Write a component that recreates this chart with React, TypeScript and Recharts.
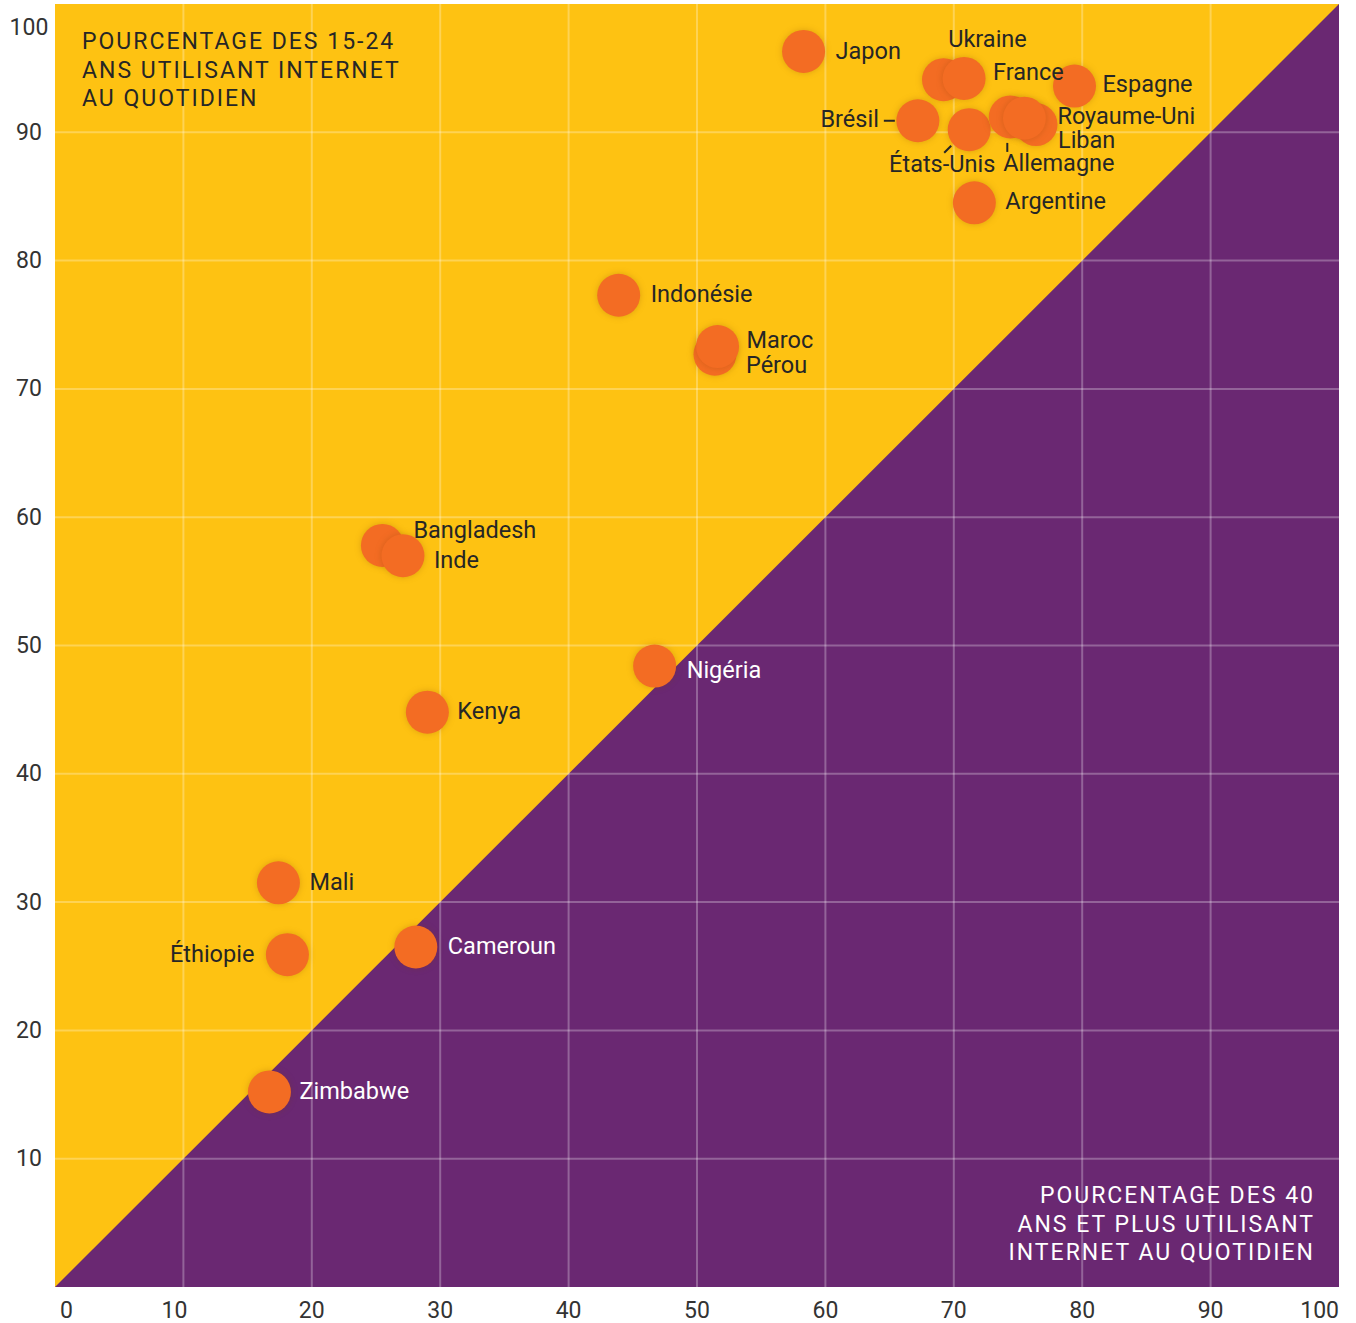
import React from "react";
import {
  ComposedChart,
  Scatter,
  XAxis,
  YAxis,
  ReferenceArea,
  ReferenceLine,
} from "recharts";

// ---- Data ----
const countries = [
  "Japon", "Ukraine", "France", "Espagne", "Brésil", "États-Unis",
  "Liban", "Allemagne", "Royaume-Uni", "Argentine", "Indonésie",
  "Pérou", "Maroc", "Bangladesh", "Inde", "Nigéria", "Kenya",
  "Mali", "Éthiopie", "Cameroun", "Zimbabwe",
];
// % of 40+ using internet daily
const olderShare = [
  58.3, 69.2, 70.8, 79.4, 67.2, 71.2,
  76.4, 74.4, 75.5, 71.6, 43.9,
  51.4, 51.6, 25.5, 27.1, 46.7, 29.0,
  17.4, 18.1, 28.1, 16.7,
];
// % of 15-24 using internet daily
const youngShare = [
  96.3, 94.1, 94.2, 93.6, 90.9, 90.2,
  90.6, 91.2, 91.1, 84.5, 77.3,
  72.7, 73.3, 57.8, 57.0, 48.4, 44.8,
  31.5, 25.9, 26.5, 15.2,
];
const xTicks = [0, 10, 20, 30, 40, 50, 60, 70, 80, 90, 100];
const yTicks = [10, 20, 30, 40, 50, 60, 70, 80, 90, 100];
const gridValues = [10, 20, 30, 40, 50, 60, 70, 80, 90];

const data = countries.map((name, i) => ({
  name,
  x: olderShare[i],
  y: youngShare[i],
}));

// ---- Styles / label placement ----
const YELLOW = "#FEC212";
const PURPLE = "#6A2872";
const ORANGE = "#F36C23";
const DARK = "#262626";
const FONT = "Roboto, sans-serif";

type Placement = {
  dx: number;
  dy: number;
  anchor?: "start" | "middle" | "end";
  light?: boolean;
  leader?: [number, number, number, number];
};
const defaultPlacement: Placement = { dx: 31, dy: 0 };
const labelPlacement: Record<string, Placement> = {
  Japon: { dx: 32, dy: 0 },
  Ukraine: { dx: 44, dy: -41, anchor: "middle" },
  France: { dx: 29, dy: -6 },
  Espagne: { dx: 28, dy: -2 },
  "Royaume-Uni": { dx: 33, dy: -2 },
  Liban: { dx: 22, dy: 15 },
  Allemagne: { dx: -7, dy: 46, leader: [-3, 26, -3, 35] },
  "États-Unis": { dx: -27, dy: 34, anchor: "middle", leader: [-18, 16, -25, 23] },
  Brésil: { dx: -39, dy: -2, anchor: "end", leader: [-34, 0, -23, 0] },
  Argentine: { dx: 31, dy: -2 },
  Indonésie: { dx: 32, dy: -1 },
  Maroc: { dx: 29, dy: -7 },
  Pérou: { dx: 31, dy: 11 },
  Bangladesh: { dx: 31, dy: -15 },
  Inde: { dx: 31, dy: 4 },
  Nigéria: { dx: 32, dy: 4, light: true },
  Kenya: { dx: 30, dy: -1 },
  Mali: { dx: 31, dy: -1 },
  Éthiopie: { dx: -33, dy: -1, anchor: "end" },
  Cameroun: { dx: 32, dy: -1, light: true },
  Zimbabwe: { dx: 30, dy: -1, light: true },
};

const Background = (props: any) => {
  const { x, y, width, height } = props;
  return (
    <g>
      <rect x={x} y={y} width={width} height={height} fill={PURPLE} />
      <polygon
        points={`${x},${y + height} ${x},${y} ${x + width},${y}`}
        fill={YELLOW}
      />
    </g>
  );
};

const Dot = (props: any) => {
  const { cx, cy } = props;
  if (cx == null || cy == null) return null;
  return (
    <circle
      cx={cx}
      cy={cy}
      r={21.5}
      fill={ORANGE}
      style={{ filter: "drop-shadow(0px 0px 3px rgba(120,60,0,0.25))" }}
    />
  );
};

const Label = (props: any) => {
  const { cx, cy, payload } = props;
  if (cx == null || cy == null || !payload) return null;
  const p = labelPlacement[payload.name] || defaultPlacement;
  return (
    <g>
      {p.leader && (
        <line
          x1={cx + p.leader[0]}
          y1={cy + p.leader[1]}
          x2={cx + p.leader[2]}
          y2={cy + p.leader[3]}
          stroke={DARK}
          strokeWidth={2}
        />
      )}
      <text
        x={cx + p.dx}
        y={cy + p.dy}
        textAnchor={p.anchor || "start"}
        dominantBaseline="central"
        fontFamily={FONT}
        fontSize={23.5}
        fill={p.light ? "#FFFFFF" : DARK}
      >
        {payload.name}
      </text>
    </g>
  );
};

const XTick = (props: any) => {
  const { x, y, payload } = props;
  const v = payload.value;
  let anchor: "start" | "middle" | "end" = "middle";
  let dx = 0;
  if (v === 0) {
    anchor = "start";
    dx = 5;
  } else if (v === 100) {
    anchor = "end";
  } else if (v === 10) {
    dx = -9;
  }
  return (
    <text
      x={x + dx}
      y={y + 23}
      textAnchor={anchor}
      dominantBaseline="central"
      fontFamily={FONT}
      fontSize={23}
      fill="#333333"
    >
      {v}
    </text>
  );
};

const YTick = (props: any) => {
  const { x, y, payload } = props;
  const v = payload.value;
  return (
    <text
      x={x - 26}
      y={y + (v === 100 ? 23 : 0)}
      textAnchor="middle"
      dominantBaseline="central"
      fontFamily={FONT}
      fontSize={23}
      fill="#333333"
    >
      {v}
    </text>
  );
};

const noteStyle: React.CSSProperties = {
  position: "absolute",
  fontFamily: FONT,
  fontSize: 23,
  letterSpacing: 2,
  lineHeight: "28.5px",
  whiteSpace: "nowrap",
};

export default function App() {
  return (
    <div
      style={{
        position: "absolute",
        left: 0,
        top: 0,
        width: 1356,
        height: 1323,
        background: "#FFFFFF",
      }}
    >
      <ComposedChart
        width={1356}
        height={1323}
        data={data}
        margin={{ top: 4, right: 17, bottom: 0, left: 0 }}
      >
        <XAxis
          type="number"
          dataKey="x"
          domain={[0, 100]}
          ticks={xTicks}
          tick={<XTick />}
          tickLine={false}
          axisLine={false}
          tickSize={0}
          tickMargin={0}
          height={36}
          interval={0}
        />
        <YAxis
          type="number"
          dataKey="y"
          domain={[0, 100]}
          ticks={yTicks}
          tick={<YTick />}
          tickLine={false}
          axisLine={false}
          tickSize={0}
          tickMargin={0}
          width={55}
          interval={0}
        />
        <ReferenceArea
          x1={0}
          x2={100}
          y1={0}
          y2={100}
          shape={<Background />}
          ifOverflow="visible"
        />
        {gridValues.map((v) => (
          <ReferenceLine
            key={`gx${v}`}
            x={v}
            stroke="rgba(255,255,255,0.28)"
            strokeWidth={2}
          />
        ))}
        {gridValues.map((v) => (
          <ReferenceLine
            key={`gy${v}`}
            y={v}
            stroke="rgba(255,255,255,0.28)"
            strokeWidth={2}
          />
        ))}
        <Scatter
          data={data}
          dataKey="y"
          shape={<Dot />}
          isAnimationActive={false}
        />
        <Scatter
          data={data}
          dataKey="y"
          shape={<Label />}
          isAnimationActive={false}
        />
      </ComposedChart>
      <div style={{ ...noteStyle, left: 82, top: 28, color: DARK }}>
        POURCENTAGE DES 15-24
        <br />
        ANS UTILISANT INTERNET
        <br />
        AU QUOTIDIEN
      </div>
      <div
        style={{
          ...noteStyle,
          right: 41,
          top: 1182,
          color: "#FFFFFF",
          textAlign: "right",
        }}
      >
        POURCENTAGE DES 40
        <br />
        ANS ET PLUS UTILISANT
        <br />
        INTERNET AU QUOTIDIEN
      </div>
    </div>
  );
}
